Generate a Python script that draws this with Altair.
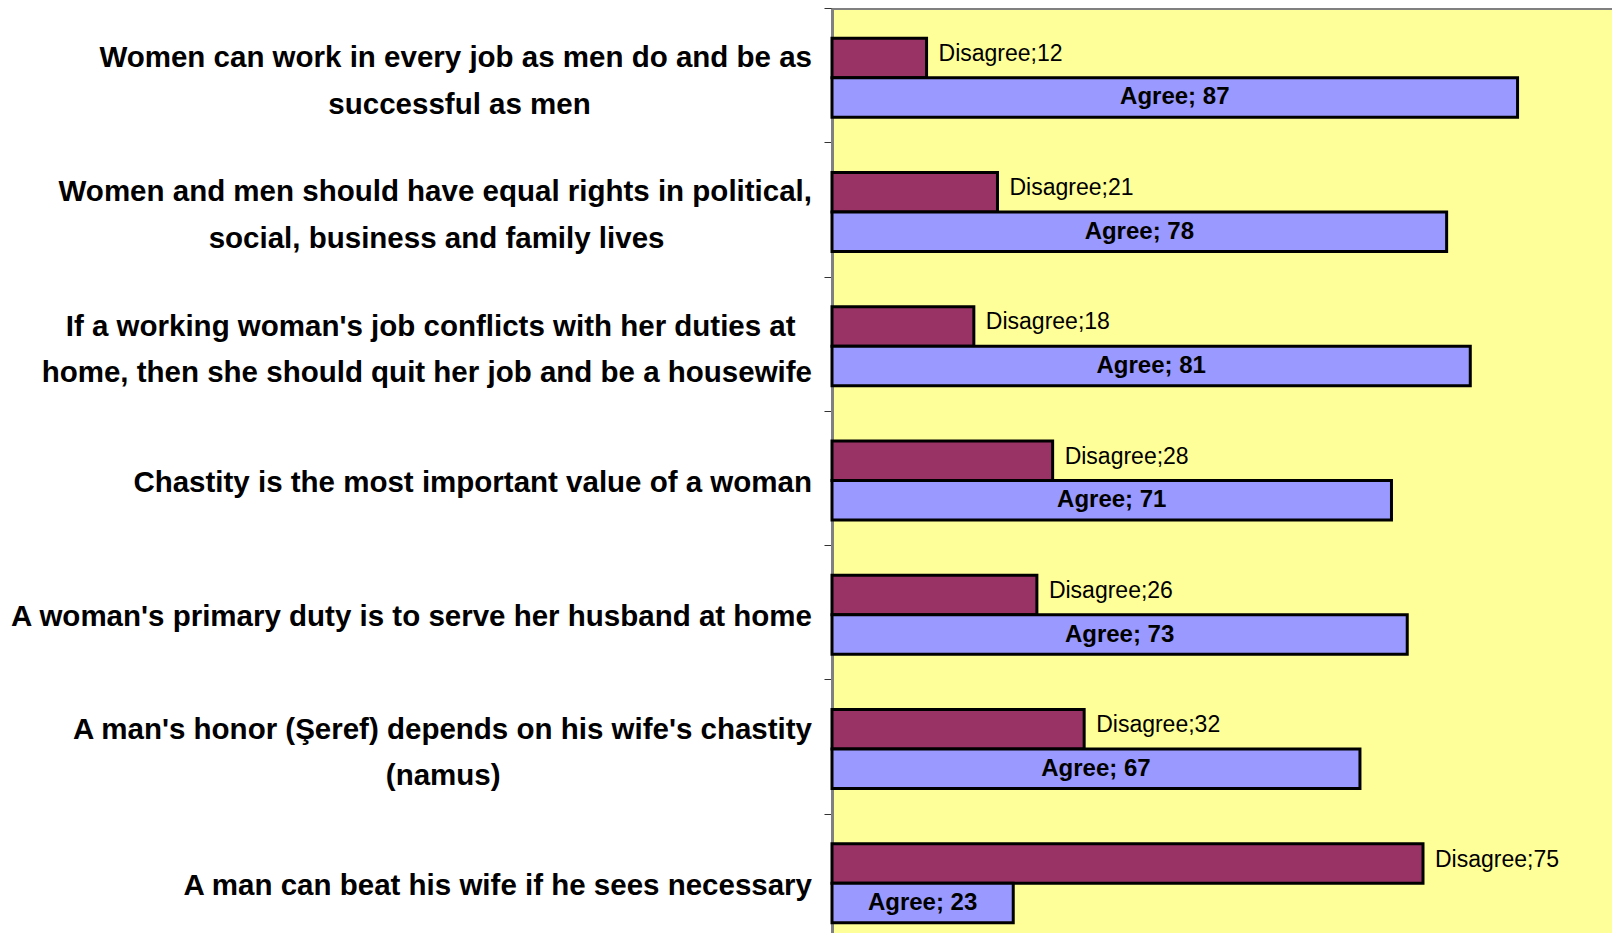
import altair as alt
import pandas as pd

# ---- data -------------------------------------------------------------
question_lines = [
    ["Women can work in every job as men do and be as", "successful as men"],
    ["Women and men should have equal rights in political,", "social, business and family lives"],
    ["If a working woman's job conflicts with her duties at", "home, then she should quit her job and be a housewife"],
    ["Chastity is the most important value of a woman"],
    ["A woman's primary duty is to serve her husband at home"],
    ["A man's honor (Şeref) depends on his wife's chastity", "(namus)"],
    ["A man can beat his wife if he sees necessary"],
]
disagree = [12, 21, 18, 28, 26, 32, 75]
agree = [87, 78, 81, 71, 73, 67, 23]
responses = ["Disagree", "Agree"]
colors = ["#993366", "#9999FF"]

# ---- helpers: center the lines of a multi-line label (Arial-Bold metrics) ----
W = {" ": 278, "'": 238, "(": 333, ")": 333, ",": 278, ".": 278, ";": 333,
     "A": 722, "C": 722, "I": 278, "S": 667, "W": 944, "Ş": 667,
     "a": 556, "b": 611, "c": 556, "d": 611, "e": 556, "f": 333, "g": 611,
     "h": 611, "i": 278, "j": 278, "k": 556, "l": 278, "m": 889, "n": 611,
     "o": 611, "p": 611, "q": 611, "r": 389, "s": 556, "t": 333, "u": 611,
     "v": 556, "w": 778, "x": 556, "y": 556, "z": 500}
NBSP = "\u00a0"
ZWSP = "\u200b"


def text_width(s):
    return sum(W.get(ch, 556) for ch in s)


def centered(lines):
    widest = max(text_width(l) for l in lines)
    out = []
    for l in lines:
        n = int(round((widest - text_width(l)) / 2 / 278))
        out.append(l + NBSP * n + (ZWSP if n else ""))
    return "|".join(out)


questions = [centered(q) for q in question_lines]

rows = []
for q, d, a in zip(questions, disagree, agree):
    rows.append({"question": q, "response": "Disagree", "value": d,
                 "label": f"Disagree;{d}"})
    rows.append({"question": q, "response": "Agree", "value": a,
                 "label": f"Agree; {a}"})
df = pd.DataFrame(rows)
qdf = pd.DataFrame({"question": questions})

# ---- chart ------------------------------------------------------------
y_enc = alt.Y(
    "question:N",
    sort=questions,
    scale=alt.Scale(paddingInner=0, paddingOuter=0),
    axis=alt.Axis(
        title=None,
        labels=False,
        tickBand="extent",
        tickSize=8,
        tickWidth=1,
        tickColor="#333333",
        domainColor="#808080",
        domainWidth=3,
        grid=False,
    ),
)
yoff = alt.YOffset(
    "response:N",
    sort=responses,
    scale=alt.Scale(paddingInner=0, paddingOuter=0.7, align=0.545),
)
x_enc = alt.X(
    "value:Q",
    scale=alt.Scale(domain=[0, 100], nice=False, zero=True),
    axis=alt.Axis(orient="top", title=None, labels=False, ticks=False,
                  grid=False, domainColor="#808080", domainWidth=3),
)

bars = alt.Chart(df).mark_bar(stroke="#000000", strokeWidth=3).encode(
    y=y_enc,
    yOffset=yoff,
    x=x_enc,
    color=alt.Color("response:N", sort=responses,
                    scale=alt.Scale(domain=responses, range=colors), legend=None),
)

q_font = dict(font="Liberation Sans", fontSize=29.5, fontWeight="bold",
              color="#000000", align="right", lineHeight=46.5)

q_single = alt.Chart(qdf).transform_filter(
    "indexof(datum.question, '|') < 0"
).mark_text(baseline="middle", dy=5, **q_font).encode(
    y=alt.Y("question:N", sort=questions),
    x=alt.value(-20),
    text="question:N",
)

q_multi = alt.Chart(qdf).transform_filter(
    "indexof(datum.question, '|') >= 0"
).transform_calculate(
    lines="split(datum.question, '|')"
).mark_text(baseline="line-bottom", dy=7, **q_font).encode(
    y=alt.Y("question:N", sort=questions),
    x=alt.value(-20),
    text="lines:N",
)

dis_text = alt.Chart(df).transform_filter(
    alt.datum.response == "Disagree"
).mark_text(
    align="left", baseline="middle", dx=12, dy=-4,
    font="Liberation Sans", fontSize=23, color="#000000",
).encode(
    y=alt.Y("question:N", sort=questions),
    yOffset=alt.YOffset("response:N", sort=responses),
    x=alt.X("value:Q"),
    text="label:N",
)

agr_text = alt.Chart(df).transform_filter(
    alt.datum.response == "Agree"
).transform_calculate(
    mid="datum.value / 2"
).mark_text(
    align="center", baseline="middle",
    font="Liberation Sans", fontSize=24, fontWeight="bold", color="#000000",
).encode(
    y=alt.Y("question:N", sort=questions),
    yOffset=alt.YOffset("response:N", sort=responses),
    x=alt.X("mid:Q"),
    text="label:N",
)

chart = alt.layer(bars, dis_text, agr_text, q_single, q_multi).properties(
    width=788,
    height=940,
    autosize=alt.AutoSizeParams(type="none"),
    padding={"left": 824, "top": 0, "right": -8, "bottom": -15},
    background="#FFFFFF",
).configure_view(
    fill="#FFFF99", strokeWidth=0
)

chart.save("out.html", embed_options={"renderer": "svg", "actions": False})
